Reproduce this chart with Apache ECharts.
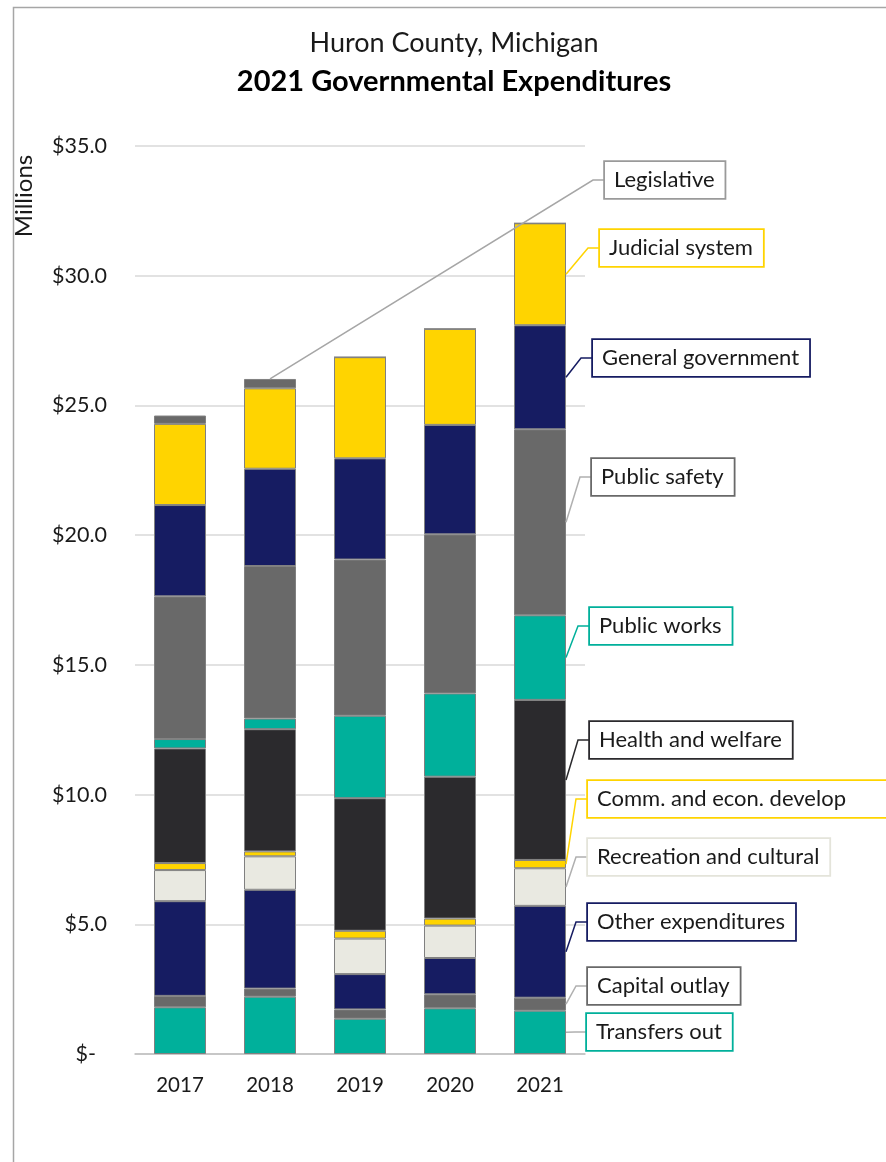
<!DOCTYPE html>
<html>
<head>
<meta charset="utf-8">
<title>Huron County, Michigan - 2021 Governmental Expenditures</title>
<script src="https://cdn.jsdelivr.net/npm/echarts@6/dist/echarts.min.js"></script>
<style>
  html, body { margin: 0; padding: 0; background: #fff; }
  #chart { width: 886px; height: 1162px; }
</style>
</head>
<body>
<div id="chart"></div>
<script>
// Years on the x axis
const years = ['2017', '2018', '2019', '2020', '2021'];

// Categories, bottom of the stack first
const categories = [
    'Transfers out', 'Capital outlay', 'Other expenditures', 'Recreation and cultural',
    'Comm. and econ. develop', 'Health and welfare', 'Public works', 'Public safety',
    'General government', 'Judicial system', 'Legislative'
];

// Expenditures in millions of dollars, one value per year
const transfersOut = [1.80, 2.21, 1.36, 1.76, 1.67];
const capitalOutlay = [0.44, 0.31, 0.36, 0.54, 0.50];
const otherExpenditures = [3.65, 3.81, 1.36, 1.40, 3.54];
const recreationCultural = [1.20, 1.29, 1.37, 1.25, 1.45];
const commEconDevelop = [0.27, 0.19, 0.30, 0.27, 0.32];
const healthWelfare = [4.42, 4.71, 5.11, 5.47, 6.17];
const publicWorks = [0.36, 0.41, 3.18, 3.21, 3.26];
const publicSafety = [5.50, 5.88, 6.02, 6.13, 7.17];
const generalGovernment = [3.52, 3.75, 3.90, 4.22, 4.01];
const judicialSystem = [3.13, 3.10, 3.90, 3.70, 3.93];
const legislative = [0.32, 0.36, 0, 0, 0];

// Y axis ticks
const yTicks = [0, 5, 10, 15, 20, 25, 30, 35];

const seriesValues = [
    transfersOut, capitalOutlay, otherExpenditures, recreationCultural, commEconDevelop,
    healthWelfare, publicWorks, publicSafety, generalGovernment, judicialSystem, legislative
];

const colors = [
    '#00B09B', '#696969', '#161C62', '#E9E9E1', '#FFD400',
    '#2B2A2D', '#00B09B', '#696969', '#161C62', '#FFD400', '#696969'
];

const FONT = 'Lato, "Open Sans", sans-serif';
const BAR_WIDTH = 52;

// Callout boxes: which segment they point at and where the box sits
const callouts = [
    { series: 10, year: 1, y: 180, left: 605, line: '#a6a6a6', border: '#9a9a9a', anchor: 'top' },
    { series: 9, year: 4, y: 248, left: 600, line: '#FFD400', border: '#FFD400' },
    { series: 8, year: 4, y: 358, left: 593, line: '#161C62', border: '#161C62' },
    { series: 7, year: 4, y: 477, left: 592, line: '#b0b0b0', border: '#696969' },
    { series: 6, year: 4, y: 626, left: 590, line: '#00B09B', border: '#00B09B' },
    { series: 5, year: 4, y: 740, left: 590, line: '#2B2A2D', border: '#2B2A2D' },
    { series: 4, year: 4, y: 799, left: 588, line: '#FFD400', border: '#FFD400', padRight: 60 },
    { series: 3, year: 4, y: 857, left: 588, line: '#b0b0b0', border: '#E4E4DA' },
    { series: 2, year: 4, y: 922, left: 588, line: '#161C62', border: '#161C62' },
    { series: 1, year: 4, y: 986, left: 588, line: '#b0b0b0', border: '#696969' },
    { series: 0, year: 4, y: 1032, left: 587, line: '#b0b0b0', border: '#00B09B' }
];

// bottom / top of each callout's segment, from the stacked values
const calloutData = callouts.map(function (c, i) {
    let bottom = 0;
    for (let s = 0; s < c.series; s++) {
        bottom += seriesValues[s][c.year];
    }
    return [c.year, bottom, bottom + seriesValues[c.series][c.year], i];
});

let chart = echarts.init(document.getElementById('chart'));

let barSeries = categories.map(function (name, i) {
    return {
        name: name,
        type: 'bar',
        stack: 'total',
        barWidth: BAR_WIDTH,
        data: seriesValues[i],
        itemStyle: {
            color: colors[i],
            borderColor: '#808080',
            borderWidth: 1
        },
        emphasis: { disabled: true }
    };
});

let calloutSeries = {
    type: 'custom',
    silent: true,
    clip: false,
    z: 5,
    data: calloutData,
    encode: { x: 0, y: 2 },
    renderItem: function (params, api) {
        let c = callouts[api.value(3)];
        let pBottom = api.coord([api.value(0), api.value(1)]);
        let pTop = api.coord([api.value(0), api.value(2)]);
        let anchor;
        if (c.anchor === 'top') {
            anchor = [pTop[0], pTop[1]];
        } else {
            anchor = [pTop[0] + BAR_WIDTH / 2, (pTop[1] + pBottom[1]) / 2];
        }
        let elbow = [c.left - 12, c.y];
        return {
            type: 'group',
            children: [
                {
                    type: 'polyline',
                    shape: { points: [anchor, elbow, [c.left, c.y]] },
                    style: { stroke: c.line, lineWidth: 1.5, fill: null }
                },
                {
                    type: 'text',
                    x: c.left,
                    y: c.y,
                    style: {
                        text: categories[c.series],
                        font: '22px ' + FONT,
                        fill: '#1a1a1a',
                        align: 'left',
                        verticalAlign: 'middle',
                        backgroundColor: '#ffffff',
                        borderColor: c.border,
                        borderWidth: 1.8,
                        padding: [7, c.padRight || 10, 7, 9]
                    }
                }
            ]
        };
    }
};

let option = {
    backgroundColor: '#ffffff',
    animation: false,
    title: [
        {
            text: 'Huron County, Michigan',
            left: 454,
            top: 30,
            textAlign: 'center',
            padding: 0,
            textStyle: { fontFamily: FONT, fontSize: 27, fontWeight: 'normal', color: '#1a1a1a' }
        },
        {
            text: '2021 Governmental Expenditures',
            left: 454,
            top: 67,
            textAlign: 'center',
            padding: 0,
            textStyle: { fontFamily: FONT, fontSize: 29, fontWeight: 'bold', color: '#000000' }
        }
    ],
    grid: {
        left: 135,
        right: 301,
        top: 146,
        bottom: 108,
        containLabel: false
    },
    xAxis: {
        type: 'category',
        data: years,
        axisLine: { lineStyle: { color: '#bfbfbf', width: 1.5 } },
        axisTick: { length: 7, lineStyle: { color: '#bfbfbf', width: 1.5 } },
        axisLabel: { fontFamily: FONT, fontSize: 20.5, color: '#1a1a1a', margin: 21 }
    },
    yAxis: {
        type: 'value',
        min: yTicks[0],
        max: yTicks[yTicks.length - 1],
        interval: yTicks[1] - yTicks[0],
        axisLine: { show: false },
        axisTick: { show: false },
        splitLine: { lineStyle: { color: '#d9d9d9', width: 1.5 } },
        axisLabel: {
            fontFamily: FONT,
            fontSize: 21.5,
            color: '#1a1a1a',
            margin: 28,
            formatter: function (v) {
                return v === 0 ? '$-  ' : '$' + v.toFixed(1);
            }
        }
    },
    graphic: [
        {
            type: 'rect',
            left: 11,
            top: 5,
            shape: { width: 900, height: 1200 },
            style: { fill: null, stroke: '#a6a6a6', lineWidth: 1.5 },
            silent: true
        },
        {
            type: 'text',
            x: 24,
            y: 196,
            rotation: Math.PI / 2,
            style: {
                text: 'Millions',
                font: '24px ' + FONT,
                fill: '#1a1a1a',
                align: 'center',
                verticalAlign: 'middle'
            }
        }
    ],
    series: barSeries.concat([calloutSeries])
};

chart.setOption(option);

window.addEventListener('resize', function () {
    chart.resize();
});
</script>
</body>
</html>
